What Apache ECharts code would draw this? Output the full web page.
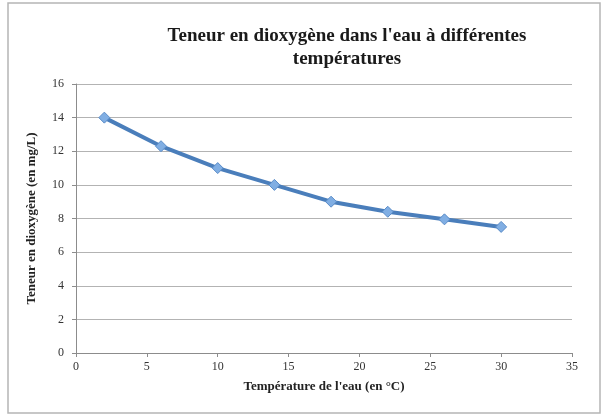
<!DOCTYPE html>
<html>
<head>
<meta charset="utf-8">
<script src="https://cdn.jsdelivr.net/npm/echarts@6/dist/echarts.min.js"></script>
<style>
  html, body { margin: 0; padding: 0; background: #fff; }
  #chart { width: 609px; height: 420px; }
</style>
</head>
<body>
<div id="chart"></div>
<script>
  // temperatures (°C) and dissolved oxygen (mg/L)
  var temperatures = [2, 6, 10, 14, 18, 22, 26, 30];
  var oxygen = [14, 12.3, 11, 10, 9, 8.4, 7.95, 7.5];

  var chart = echarts.init(document.getElementById('chart'));
  var serif = '"Liberation Serif", "DejaVu Serif", serif';

  var option = {
    animation: false,
    backgroundColor: '#fff',
    graphic: [{
      type: 'rect',
      shape: { x: 8, y: 3, width: 592, height: 410 },
      style: { fill: 'none', stroke: '#b5b5b5', lineWidth: 1.5 },
      silent: true
    }],
    title: {
      text: "Teneur en dioxygène dans l'eau à différentes\ntempératures",
      left: 342,
      top: 20,
      textAlign: 'center',
      textStyle: {
        fontFamily: serif,
        fontWeight: 'bold',
        fontSize: 19,
        lineHeight: 23,
        color: '#1a1a1a'
      }
    },
    grid: { left: 76, right: 37, top: 84, bottom: 67 },
    xAxis: {
      type: 'value',
      min: 0,
      max: 35,
      interval: 5,
      name: "Température de l'eau (en °C)",
      nameLocation: 'middle',
      nameGap: 27,
      nameTextStyle: { fontFamily: serif, fontWeight: 'bold', fontSize: 13, color: '#222' },
      axisLine: { lineStyle: { color: '#8c8c8c', width: 1 } },
      axisTick: { show: true, length: 4, lineStyle: { color: '#8c8c8c' } },
      axisLabel: { fontFamily: serif, fontSize: 12, color: '#333', margin: 8 },
      splitLine: { show: false }
    },
    yAxis: {
      type: 'value',
      min: 0,
      max: 16,
      interval: 2,
      name: 'Teneur en dioxygène (en mg/L)',
      nameLocation: 'middle',
      nameGap: 38,
      nameTextStyle: { fontFamily: serif, fontWeight: 'bold', fontSize: 13, color: '#222' },
      axisLine: { show: true, lineStyle: { color: '#8c8c8c', width: 1 } },
      axisTick: { show: true, length: 4, lineStyle: { color: '#8c8c8c' } },
      axisLabel: { fontFamily: serif, fontSize: 12, color: '#333', margin: 12 },
      splitLine: { show: true, lineStyle: { color: '#b3b3b3', width: 1 } }
    },
    series: [{
      type: 'line',
      data: temperatures.map(function (t, i) { return [t, oxygen[i]]; }),
      symbol: 'diamond',
      symbolSize: 11,
      lineStyle: { color: '#4a7ebb', width: 4 },
      itemStyle: { color: '#80aee3', borderColor: '#5a8cc8', borderWidth: 1 }
    }]
  };

  chart.setOption(option);
</script>
</body>
</html>
